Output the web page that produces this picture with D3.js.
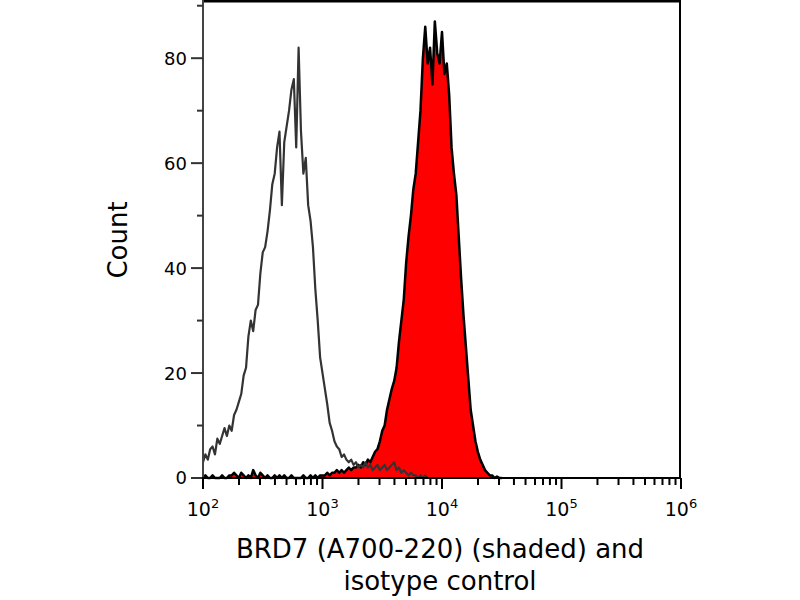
<!doctype html>
<html lang="en">
<head>
<meta charset="utf-8">
<title>BRD7 flow histogram</title>
<script src="https://d3js.org/d3.v7.min.js"></script>
<style>
  body { margin: 0; background: #fff; }
  text { font-family: "DejaVu Sans", sans-serif; fill: #000; }
</style>
</head>
<body>
<svg id="chart" width="800" height="600"></svg>
<script>
// channels are spaced evenly in log10 units, starting at 10^2
const logStart = 2;
const logStep = 0.02;

// isotype control (open grey line), 10^2.00 .. 10^4.00
const isotypeCounts = [
  3, 4.5, 3.5, 5.5, 6, 4.5, 7.5, 6.5, 8, 9.5,
  8, 10, 9, 12, 13, 14.5, 16, 19.5, 21, 27,
  30, 28, 32, 33, 39, 43, 44, 47, 51, 56,
  58, 63, 66, 52, 64, 67, 70, 74, 76, 63,
  82, 66, 58, 61, 52, 49, 44, 36, 30, 23,
  20, 17, 14, 10.5, 9, 7, 6, 5.5, 4, 4.5,
  3.5, 3, 3.5, 2.5, 3, 2, 2.5, 2, 3, 2,
  2.5, 1.5, 2, 2.5, 1.5, 2, 2.5, 1.5, 2, 2.5,
  3, 1.5, 2, 1, 1.5, 1, 0.5, 1, 0.5, 0.5,
  0, 0.5, 0, 0.5, 0, 0, 0, 0, 0, 0, 0
];

// BRD7 stained sample (red shaded), 10^2.00 .. 10^4.50
const shadedCounts = [
  0, 0.5, 0, 0, 0.5, 0, 0, 0, 0.5, 0,
  0, 0.5, 0.5, 1, 0.5, 0, 1, 0.5, 0, 0.5,
  0, 1.5, 0.5, 0, 1, 0.5, 0, 0.5, 0, 0,
  0.5, 0, 0.5, 0, 0.5, 0, 0, 0.5, 0, 0,
  0, 0, 0.5, 0, 0, 0.5, 0, 0.5, 0, 0.5,
  0.5, 0.5, 1, 0.5, 1, 1, 1.5, 1, 1.5, 1,
  1.5, 2, 1.5, 2, 2, 2.5, 2, 3, 2.5, 3.5,
  3, 4, 5, 5.5, 7, 9, 10, 13, 15, 17,
  18.5, 21, 26, 30, 34, 41, 46, 50, 55, 58,
  64, 70, 80, 86, 79, 82, 75, 87, 81, 79,
  85, 77, 79, 73, 63, 58, 54, 46, 38, 31,
  25, 19, 13, 10, 7, 5, 3.5, 2.5, 1.5, 1,
  0.5, 0.5, 0, 0.3, 0, 0
];

const yTicks = [0, 20, 40, 60, 80];
const yMinorTicks = [10, 30, 50, 70, 90];
const xDecades = [2, 3, 4, 5, 6];
const xLabel = ["BRD7 (A700-220) (shaded) and", "isotype control"];
const yLabel = "Count";

const plotLeft = 203, plotRight = 681, plotTop = 1, plotBottom = 478;

const svg = d3.select("#chart");

const x = d3.scaleLog().domain([1e2, 1e6]).range([plotLeft, plotRight]);
const y = d3.scaleLinear().domain([0, 90.9]).range([plotBottom, plotTop]);

const toPoints = counts => counts.map((c, i) => ({ v: Math.pow(10, logStart + i * logStep), c: c }));
const iso = toPoints(isotypeCounts);
const shaded = toPoints(shadedCounts);

// shaded histogram
svg.append("path")
  .datum(shaded)
  .attr("fill", "#ff0000")
  .attr("d", d3.area().x(d => x(d.v)).y0(y(0)).y1(d => y(d.c)));

svg.append("path")
  .datum(shaded)
  .attr("fill", "none")
  .attr("stroke", "#000")
  .attr("stroke-width", 2.5)
  .attr("stroke-linejoin", "round")
  .attr("d", d3.line().x(d => x(d.v)).y(d => y(d.c)));

// isotype on top
svg.append("path")
  .datum(iso)
  .attr("fill", "none")
  .attr("stroke", "#333")
  .attr("stroke-width", 2.2)
  .attr("stroke-linejoin", "round")
  .attr("d", d3.line().x(d => x(d.v)).y(d => y(d.c)));

// frame: top and right
svg.append("line")
  .attr("x1", plotLeft).attr("x2", plotRight).attr("y1", plotTop).attr("y2", plotTop)
  .attr("stroke", "#000").attr("stroke-width", 3);
svg.append("line")
  .attr("x1", plotRight - 1).attr("x2", plotRight - 1).attr("y1", plotTop).attr("y2", plotBottom)
  .attr("stroke", "#000").attr("stroke-width", 2);

// y axis
const yAxis = svg.append("g").attr("transform", `translate(${plotLeft},0)`);
yAxis.append("line")
  .attr("x1", 0).attr("x2", 0).attr("y1", 0).attr("y2", plotBottom + 1)
  .attr("stroke", "#444").attr("stroke-width", 2);
yAxis.selectAll(".ymaj").data(yTicks).enter().append("line")
  .attr("x1", -12).attr("x2", 0)
  .attr("y1", d => y(d)).attr("y2", d => y(d))
  .attr("stroke", "#333").attr("stroke-width", 2);
yAxis.selectAll(".ymin").data(yMinorTicks).enter().append("line")
  .attr("x1", -6).attr("x2", 0)
  .attr("y1", d => y(d)).attr("y2", d => y(d))
  .attr("stroke", "#333").attr("stroke-width", 2);
yAxis.selectAll(".ylab").data(yTicks).enter().append("text")
  .attr("x", -16).attr("y", d => y(d))
  .attr("dy", "0.36em")
  .attr("text-anchor", "end")
  .attr("font-size", 18)
  .text(d => d);

// x axis
const xAxis = svg.append("g");
xAxis.append("line")
  .attr("x1", plotLeft - 1).attr("x2", plotRight).attr("y1", plotBottom).attr("y2", plotBottom)
  .attr("stroke", "#000").attr("stroke-width", 2);
const minor = [];
xDecades.slice(0, -1).forEach(e => {
  for (let m = 2; m <= 9; m++) minor.push(m * Math.pow(10, e));
});
xAxis.selectAll(".xmin").data(minor).enter().append("line")
  .attr("x1", d => x(d)).attr("x2", d => x(d))
  .attr("y1", plotBottom).attr("y2", plotBottom + 7)
  .attr("stroke", "#000").attr("stroke-width", 2);
xAxis.selectAll(".xmaj").data(xDecades).enter().append("line")
  .attr("x1", d => x(Math.pow(10, d))).attr("x2", d => x(Math.pow(10, d)))
  .attr("y1", plotBottom).attr("y2", plotBottom + 11)
  .attr("stroke", "#000").attr("stroke-width", 2);
const xl = xAxis.selectAll(".xlab").data(xDecades).enter().append("text")
  .attr("x", d => x(Math.pow(10, d)))
  .attr("y", 516)
  .attr("text-anchor", "middle")
  .attr("font-size", 19);
xl.append("tspan").text("10");
xl.append("tspan").attr("dy", -8).attr("font-size", 13).text(d => d);

// axis titles
svg.append("text")
  .attr("transform", "translate(127,240) rotate(-90)")
  .attr("text-anchor", "middle")
  .attr("font-size", 26)
  .text(yLabel);

svg.append("text")
  .attr("text-anchor", "middle")
  .attr("font-size", 26)
  .selectAll("tspan").data(xLabel).enter().append("tspan")
  .attr("x", (plotLeft + plotRight) / 2 - 2)
  .attr("y", (d, i) => 558 + i * 32)
  .text(d => d);
</script>
</body>
</html>
